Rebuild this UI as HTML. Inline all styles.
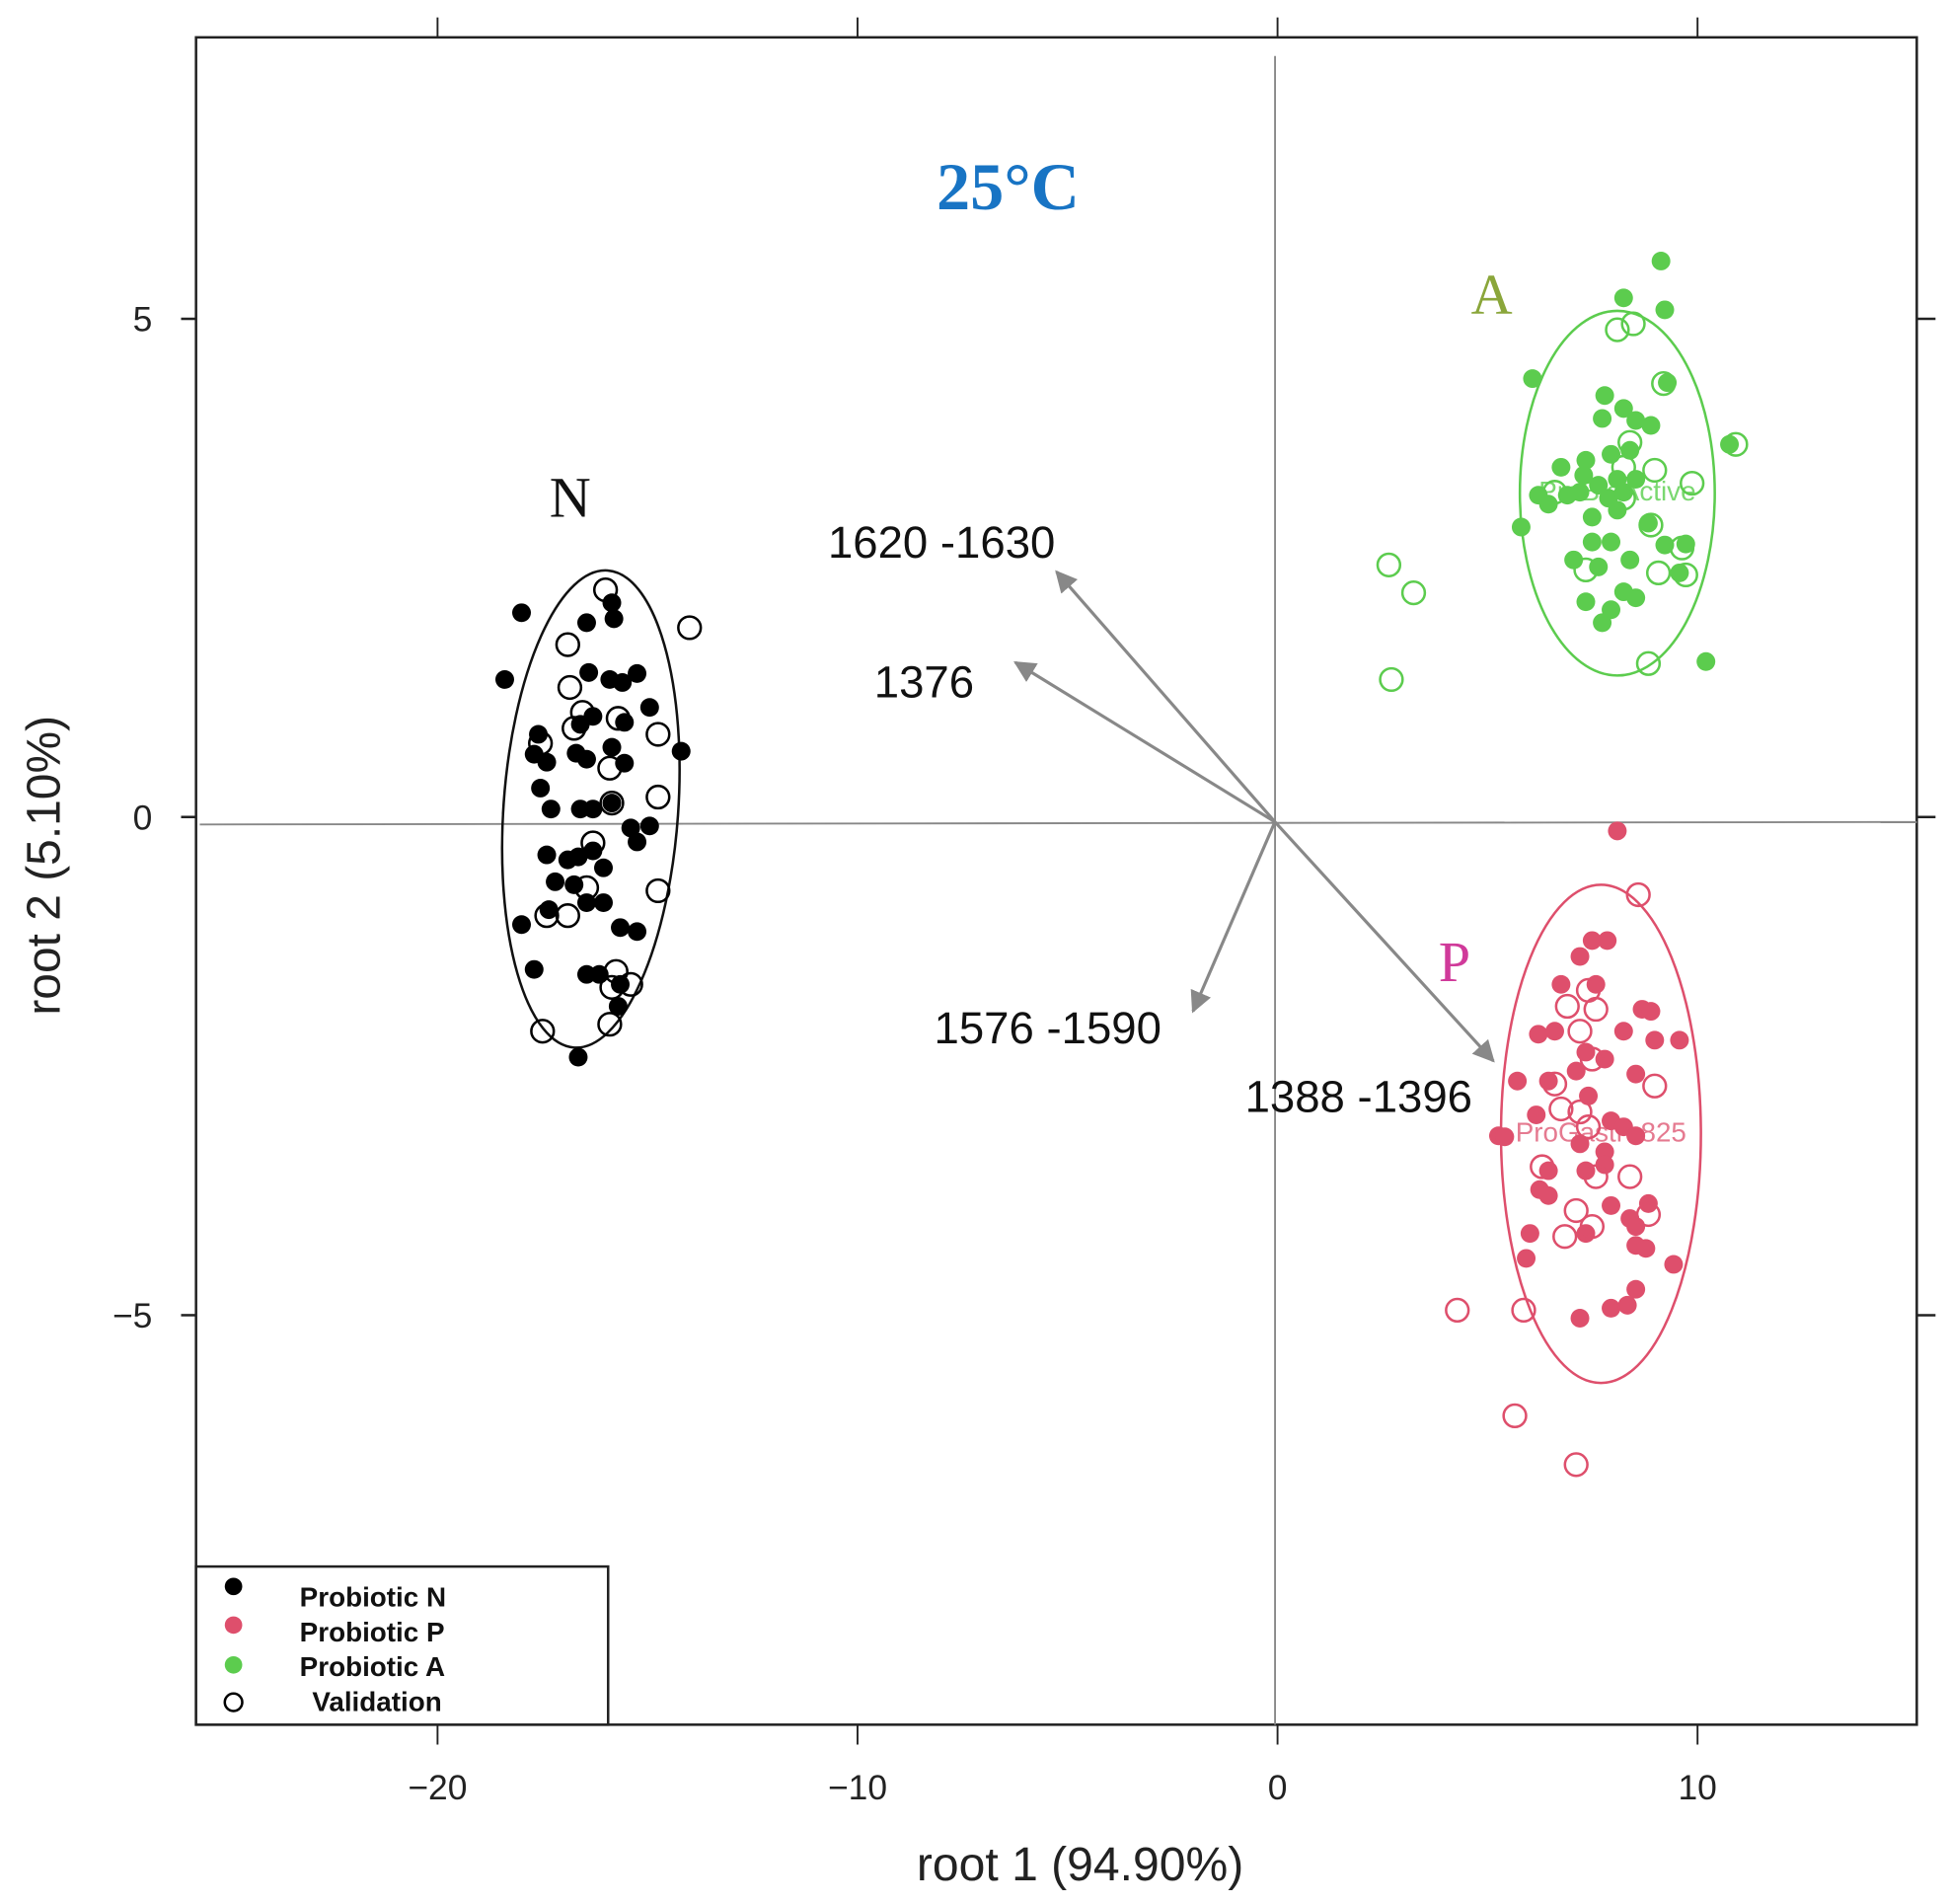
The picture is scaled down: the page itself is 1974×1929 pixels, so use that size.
<!DOCTYPE html>
<html><head><meta charset="utf-8"><style>
html,body{margin:0;padding:0;background:#fff;}
svg{display:block;}
text{font-family:"Liberation Sans",sans-serif;}
</style></head><body>
<svg id="chart" width="1974" height="1929" viewBox="0 0 1560 1529" preserveAspectRatio="none" xmlns="http://www.w3.org/2000/svg">
<defs><marker id="ah" viewBox="0 0 10 10" refX="9" refY="5" markerWidth="7" markerHeight="7" orient="auto"><path d="M0,0 L10,5 L0,10 z" fill="#888"/></marker></defs>
<g id="plot"></g>
</svg>
<script>
const xTicks=[-20,-10,0,10];
const yTicks=[-5,0,5];
const nFilledX=[-18.0,-18.4,-15.85,-15.8,-16.4,-15.9,-15.6,-15.25,-17.6,-17.7,-16.6,-16.3,-15.55,-14.95,-14.2,-17.4,-16.7,-16.45,-15.85,-15.55,-17.55,-17.3,-16.6,-16.3,-15.85,-15.4,-15.25,-14.95,-17.4,-16.9,-16.65,-16.3,-17.2,-16.75,-16.05,-17.35,-16.45,-16.05,-18.0,-15.65,-15.25,-17.7,-16.45,-16.15,-15.65,-15.7,-16.65,-16.45];
const nFilledY=[2.05,1.38,2.15,1.99,1.45,1.38,1.35,1.44,0.83,0.63,0.93,1.01,0.95,1.1,0.66,0.55,0.64,0.58,0.7,0.54,0.29,0.08,0.08,0.08,0.14,-0.11,-0.25,-0.09,-0.38,-0.43,-0.4,-0.34,-0.65,-0.68,-0.51,-0.93,-0.86,-0.86,-1.08,-1.11,-1.15,-1.53,-1.58,-1.58,-1.68,-1.9,-2.41,1.95];
const nOpenX=[-16.0,-16.9,-14.0,-16.85,-16.55,-15.7,-16.75,-17.55,-14.75,-15.9,-14.75,-15.85,-16.3,-16.45,-14.75,-17.4,-16.9,-15.75,-15.4,-15.85,-17.5,-15.9];
const nOpenY=[2.28,1.73,1.9,1.3,1.05,0.99,0.89,0.74,0.83,0.49,0.2,0.14,-0.26,-0.71,-0.74,-0.99,-0.99,-1.55,-1.68,-1.71,-2.15,-2.08];
const aFilledX=[9.13,8.24,9.22,6.07,9.28,7.79,8.24,7.73,8.53,8.89,6.75,7.34,7.94,8.39,7.29,7.64,8.09,6.21,6.9,7.2,7.88,8.24,8.53,6.45,7.49,8.09,5.8,8.83,7.94,7.49,9.22,9.72,7.05,7.64,8.39,9.57,7.34,7.94,8.24,8.53,7.73,10.2,10.76];
const aFilledY=[5.58,5.21,5.09,4.4,4.36,4.23,4.1,4.0,3.98,3.93,3.51,3.58,3.64,3.68,3.43,3.33,3.39,3.23,3.23,3.26,3.2,3.26,3.39,3.14,3.01,3.08,2.91,2.95,2.76,2.76,2.73,2.74,2.58,2.51,2.58,2.45,2.16,2.08,2.26,2.2,1.95,1.56,3.74];
const aOpenX=[8.09,8.47,9.19,10.91,8.39,8.24,8.98,9.87,6.6,8.24,8.89,9.63,2.65,3.24,7.34,9.07,9.72,8.83,2.71];
const aOpenY=[4.89,4.95,4.35,3.74,3.76,3.51,3.48,3.35,3.26,3.2,2.93,2.7,2.53,2.25,2.48,2.45,2.43,1.54,1.38];
const pFilledX=[8.09,7.49,7.85,7.2,6.75,7.58,8.68,8.89,6.6,6.21,8.24,8.98,9.57,7.34,7.79,6.45,7.11,5.71,7.4,8.53,6.16,7.94,5.26,5.41,8.24,7.2,7.79,8.53,6.45,7.34,7.79,6.24,6.45,7.94,8.83,8.39,6.01,7.34,8.53,8.53,8.77,5.92,9.43,8.53,7.2,7.94,8.33];
const pFilledY=[-0.14,-1.24,-1.24,-1.4,-1.68,-1.68,-1.93,-1.95,-2.15,-2.18,-2.15,-2.24,-2.24,-2.36,-2.43,-2.65,-2.55,-2.65,-2.8,-2.58,-2.99,-3.05,-3.2,-3.21,-3.11,-3.28,-3.36,-3.2,-3.55,-3.55,-3.49,-3.74,-3.8,-3.9,-3.88,-4.03,-4.18,-4.18,-4.11,-4.3,-4.33,-4.43,-4.49,-4.74,-5.03,-4.93,-4.9];
const pOpenX=[8.59,7.4,6.9,7.2,7.58,7.49,6.6,8.98,6.75,7.2,7.4,6.3,7.58,8.39,8.83,7.11,6.84,7.49,4.28,5.86,5.65,7.11];
const pOpenY=[-0.78,-1.74,-1.9,-2.15,-1.93,-2.43,-2.68,-2.7,-2.93,-2.96,-3.11,-3.51,-3.61,-3.61,-3.99,-3.95,-4.21,-4.11,-4.95,-4.95,-6.01,-6.5];
const ellCx=[-16.35,8.09,7.7];
const ellCy=[0.08,3.25,-3.18];
const ellRx=[2.08,2.32,2.38];
const ellRy=[2.4,1.83,2.5];
const loadNames=["1620 -1630","1376","1576 -1590","1388 -1396"];
const loadX=[-5.2,-6.18,-1.95,5.2];
const loadY=[2.51,1.6,-1.9,-2.4];

const X0=157,X1=1535,Y0=30,Y1=1385;
const xmin=-25.75,xmax=15.22,ymin=-9.11,ymax=7.825;
const sx=v=>X0+(v-xmin)/(xmax-xmin)*(X1-X0);
const sy=v=>Y1-(v-ymin)/(ymax-ymin)*(Y1-Y0);
const g=document.getElementById('plot');
const NS='http://www.w3.org/2000/svg';
function mk(tag,attrs,parent){const e=document.createElementNS(NS,tag);for(const k in attrs)e.setAttribute(k,attrs[k]);(parent||g).appendChild(e);return e;}

// frame
let fr=mk('rect',{x:X0,y:Y0,width:X1-X0,height:Y1-Y0,fill:'none',stroke:'#222','stroke-width':2});


// reference lines
let vl=mk('line',{x1:sx(0)-2,y1:45,x2:sx(0)-2,y2:Y1,stroke:'#888','stroke-width':1.5});


let hl=mk('line',{x1:160,y1:sy(0)+6,x2:X1,y2:sy(0)+4,stroke:'#888','stroke-width':1.5});



// ticks
xTicks.forEach(t=>{
  const x=sx(t);
  let a=mk('line',{x1:x,y1:Y0,x2:x,y2:Y0-16,stroke:'#222','stroke-width':1.5});
  
  
  let b=mk('line',{x1:x,y1:Y1,x2:x,y2:Y1+16,stroke:'#222','stroke-width':1.5});
  
  
  let l=mk('text',{x:x,y:1445,'font-size':28,'text-anchor':'middle',fill:'#222'});
  l.textContent=(t<0?'\u2212'+(-t):String(t));
  
  
});
yTicks.forEach(t=>{
  const y=sy(t);
  let a=mk('line',{x1:X0,y1:y,x2:X0-12,y2:y,stroke:'#222','stroke-width':2});
  
  
  let b=mk('line',{x1:X1,y1:y,x2:X1+15,y2:y,stroke:'#222','stroke-width':2});
  
  
  let l=mk('text',{x:122,y:y+10,'font-size':28,'text-anchor':'end',fill:'#222'});
  l.textContent=(t<0?'\u2212'+(-t):String(t));
  
  
});

// ellipses
const ellColors=['#111','#5ccc4e','#de4f6c'];
const ellNames=['ellipse-n','ellipse-a','ellipse-p'];
const ellRot=[4,0,0];
for(let i=0;i<3;i++){
  const cx=sx(ellCx[i]),cy=sy(ellCy[i]);
  const rx=sx(ellCx[i]+ellRx[i])-cx, ry=cy-sy(ellCy[i]+ellRy[i]);
  let e=mk('ellipse',{cx:cx,cy:cy,rx:rx,ry:ry,fill:'none',stroke:ellColors[i],'stroke-width':2,transform:`rotate(${ellRot[i]} ${cx} ${cy})`});
  
  
}
// centroid labels
let ta=mk('text',{x:sx(ellCx[1]),y:sy(ellCy[1])+6,'font-size':22,'text-anchor':'middle',fill:'#7ad870'});
ta.textContent='ProBioActive';


let tp=mk('text',{x:sx(ellCx[2]),y:sy(ellCy[2])+6,'font-size':22,'text-anchor':'middle',fill:'#e57a90'});
tp.textContent='ProGastro825';



// points
function pts(xs,ys,color,open,name){
  for(let i=0;i<xs.length;i++){
    let c=open?mk('circle',{cx:sx(xs[i]),cy:sy(ys[i]),r:9,fill:'none',stroke:color,'stroke-width':2})
              :mk('circle',{cx:sx(xs[i]),cy:sy(ys[i]),r:7.5,fill:color});
    
    
  }
}
pts(nFilledX,nFilledY,'#000',false,'point-n');
pts(nOpenX,nOpenY,'#000',true,'validation-point-n');
pts(aFilledX,aFilledY,'#5ccc4e',false,'point-a');
pts(aOpenX,aOpenY,'#5ccc4e',true,'validation-point-a');
pts(pFilledX,pFilledY,'#de4f6c',false,'point-p');
pts(pOpenX,pOpenY,'#de4f6c',true,'validation-point-p');

// loadings arrows
const labelPos=[[663,448],[700,560],[748,838],[997,893]];
const ox=1021,oy=660;
for(let i=0;i<loadX.length;i++){
  let a=mk('line',{x1:ox,y1:oy,x2:ox+(sx(loadX[i])-sx(0)),y2:oy+(sy(loadY[i])-sy(0)),stroke:'#888','stroke-width':2.5,'marker-end':'url(#ah)'});
  
  
  let t=mk('text',{x:labelPos[i][0],y:labelPos[i][1],'font-size':36,fill:'#111'});
  t.textContent=loadNames[i];
  
  
}
</script>
<svg style="position:absolute;left:0;top:0" width="1974" height="1929" viewBox="0 0 1560 1529" preserveAspectRatio="none" xmlns="http://www.w3.org/2000/svg">
<text x="750" y="168" font-size="54" font-weight="bold" fill="#1874c4" style="font-family:'Liberation Serif',serif">25°C</text>
<text x="440" y="415" font-size="46" fill="#111" style="font-family:'Liberation Serif',serif">N</text>
<text x="1178" y="252" font-size="46" fill="#8aa63a" style="font-family:'Liberation Serif',serif">A</text>
<text x="1152" y="788" font-size="46" fill="#d03a9a" style="font-family:'Liberation Serif',serif">P</text>
<text x="865" y="1510" font-size="38" text-anchor="middle" fill="#222">root 1 (94.90%)</text>
<text x="0" y="0" font-size="38" text-anchor="middle" fill="#222" transform="translate(48 695) rotate(-90)">root 2 (5.10%)</text>
<g>
<rect x="157" y="1258" width="330" height="127" fill="#fff" stroke="#222" stroke-width="2"/>
<circle cx="187" cy="1274" r="7" fill="#000"/>
<circle cx="187" cy="1305" r="7" fill="#de4f6c"/>
<circle cx="187" cy="1337" r="7" fill="#5ccc4e"/>
<circle cx="187" cy="1367" r="7" fill="none" stroke="#000" stroke-width="2"/>
<text x="240" y="1290" font-size="22" font-weight="bold" fill="#111">Probiotic N</text>
<text x="240" y="1318" font-size="22" font-weight="bold" fill="#111">Probiotic P</text>
<text x="240" y="1346" font-size="22" font-weight="bold" fill="#111">Probiotic A</text>
<text x="250" y="1374" font-size="22" font-weight="bold" fill="#111">Validation</text>
</g>
</svg>
</body></html>
